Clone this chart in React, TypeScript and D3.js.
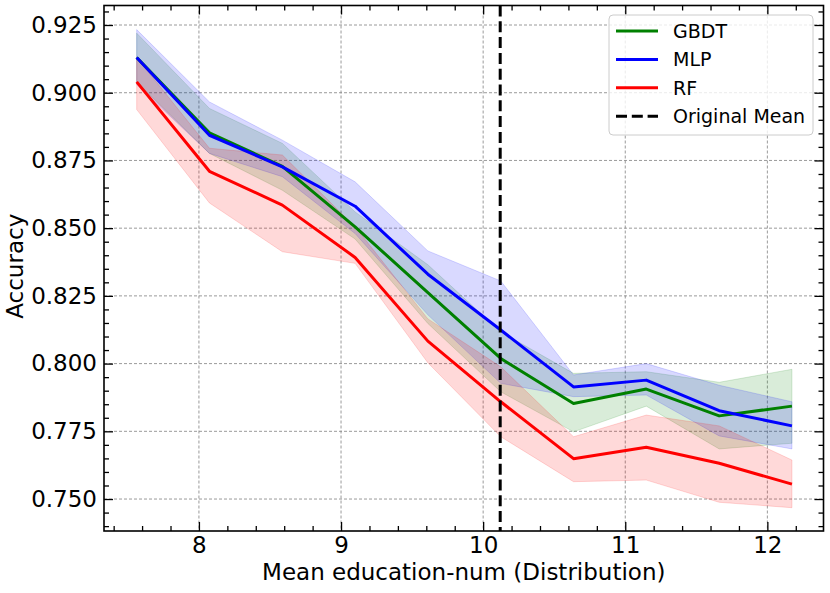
import React, { useEffect, useRef } from "react";
import { area, axisBottom, axisLeft, axisRight, axisTop, line, range, scaleLinear, select, Selection } from "d3";

const WIDTH = 830;
const HEIGHT = 593;
const MARGIN = { left: 104, right: 6.5, top: 5.5, bottom: 62 };
const FONT = "'DejaVu Sans', sans-serif";
const LABEL_SIZE = 23;

const X_DOMAIN: [number, number] = [7.332, 12.395];
const Y_DOMAIN: [number, number] = [0.7382, 0.9322];
const X_TICKS = [8, 9, 10, 11, 12];
const Y_TICKS = [0.75, 0.775, 0.8, 0.825, 0.85, 0.875, 0.9, 0.925];
const ORIGINAL_MEAN = 10.12;

const MEAN_EDU = [7.562, 8.074, 8.587, 9.099, 9.611, 10.124, 10.636, 11.148, 11.661, 12.173];

const GBDT_MEAN = [0.913, 0.8852, 0.8728, 0.8505, 0.8262, 0.8019, 0.7853, 0.7906, 0.7807, 0.7843];
const GBDT_LOW = [0.904, 0.8776, 0.864, 0.846, 0.8148, 0.7896, 0.7748, 0.7843, 0.7685, 0.7706];
const GBDT_HIGH = [0.922, 0.8942, 0.8813, 0.856, 0.8365, 0.8117, 0.7964, 0.797, 0.7931, 0.7979];

const MLP_MEAN = [0.913, 0.8843, 0.8726, 0.8581, 0.833, 0.8124, 0.7914, 0.7939, 0.7826, 0.777];
const MLP_LOW = [0.903, 0.8776, 0.869, 0.848, 0.818, 0.7927, 0.7878, 0.7884, 0.7733, 0.7685];
const MLP_HIGH = [0.9233, 0.8966, 0.8825, 0.8671, 0.8416, 0.8305, 0.7958, 0.8, 0.792, 0.7859];

const RF_MEAN = [0.904, 0.871, 0.8585, 0.8392, 0.8083, 0.7859, 0.7649, 0.7691, 0.7632, 0.7555];
const RF_LOW = [0.8938, 0.8593, 0.8413, 0.837, 0.8003, 0.773, 0.7564, 0.757, 0.7488, 0.7468];
const RF_HIGH = [0.913, 0.8795, 0.877, 0.8505, 0.8165, 0.7988, 0.773, 0.781, 0.777, 0.7644];

type Series = { name: string; color: string; mean: number[]; low: number[]; high: number[] };

const SERIES: Series[] = [
    { name: "GBDT", color: "#008000", mean: GBDT_MEAN, low: GBDT_LOW, high: GBDT_HIGH },
    { name: "MLP", color: "#0000ff", mean: MLP_MEAN, low: MLP_LOW, high: MLP_HIGH },
    { name: "RF", color: "#ff0000", mean: RF_MEAN, low: RF_LOW, high: RF_HIGH },
];

type G = Selection<SVGGElement, unknown, null, undefined>;

const innerW = WIDTH - MARGIN.left - MARGIN.right;
const innerH = HEIGHT - MARGIN.top - MARGIN.bottom;

const App = () => {
    const svgRef = useRef<SVGSVGElement>(null);

    useEffect(() => {
        const svgEl = select(svgRef.current);
        svgEl.selectAll("*").remove();
        const svg = svgEl.append("g").attr("transform", `translate(${MARGIN.left},${MARGIN.top})`);

        const x = scaleLinear().domain(X_DOMAIN).range([0, innerW]);
        const y = scaleLinear().domain(Y_DOMAIN).range([innerH, 0]);

        drawGrid(svg, x, y);

        const idx = range(MEAN_EDU.length);
        const band = (s: Series) =>
            area<number>()
                .x(i => x(MEAN_EDU[i]))
                .y0(i => y(s.low[i]))
                .y1(i => y(s.high[i]));
        const meanLine = (s: Series) =>
            line<number>()
                .x(i => x(MEAN_EDU[i]))
                .y(i => y(s.mean[i]));

        SERIES.forEach(s => {
            svg.append("path")
                .attr("d", band(s)(idx))
                .attr("fill", s.color)
                .attr("fill-opacity", 0.15)
                .attr("stroke", s.color)
                .attr("stroke-opacity", 0.15)
                .attr("stroke-width", 1);
        });
        SERIES.forEach(s => {
            svg.append("path")
                .attr("d", meanLine(s)(idx))
                .attr("fill", "none")
                .attr("stroke", s.color)
                .attr("stroke-width", 3)
                .attr("stroke-linejoin", "round");
        });

        svg.append("line")
            .attr("x1", x(ORIGINAL_MEAN))
            .attr("x2", x(ORIGINAL_MEAN))
            .attr("y1", 0)
            .attr("y2", innerH)
            .attr("stroke", "black")
            .attr("stroke-width", 3)
            .attr("stroke-dasharray", "11,4.8");

        drawAxes(svg, x, y);
        drawLegend(svgEl as unknown as G);
    }, []);

    return (
        <svg
            ref={svgRef}
            width={WIDTH}
            height={HEIGHT}
            style={{ position: "absolute", left: 0, top: 0, background: "white" }}
        />
    );
};

const drawGrid = (svg: G, x: any, y: any) => {
    const grid = svg.append("g");
    X_TICKS.forEach(t => {
        grid.append("line")
            .attr("x1", x(t)).attr("x2", x(t))
            .attr("y1", 0).attr("y2", innerH)
            .attr("stroke", "#808080").attr("stroke-width", 0.8).attr("stroke-dasharray", "3,2");
    });
    Y_TICKS.forEach(t => {
        grid.append("line")
            .attr("y1", y(t)).attr("y2", y(t))
            .attr("x1", 0).attr("x2", innerW)
            .attr("stroke", "#808080").attr("stroke-width", 0.8).attr("stroke-dasharray", "3,2");
    });
};

const drawAxes = (svg: G, x: any, y: any) => {
    const xMinor = range(7.4, 12.4, 0.2).filter(v => !X_TICKS.some(t => Math.abs(t - v) < 1e-6));
    const yMinor = range(0.74, 0.9321, 0.005).filter(v => !Y_TICKS.some(t => Math.abs(t - v) < 1e-6));

    const addAxis = (gen: any, transform: string, labels: boolean) => {
        const g = svg.append("g").attr("transform", transform).call(gen);
        g.select(".domain").remove();
        g.selectAll("line").attr("stroke", "black").attr("stroke-width", 1.3);
        if (labels) {
            g.selectAll("text").attr("font-family", FONT).attr("font-size", LABEL_SIZE).attr("fill", "black");
        } else {
            g.selectAll("text").remove();
        }
    };

    // ticks point inwards, hence the negative sizes
    addAxis(axisBottom(x).tickValues(X_TICKS).tickSize(-9).tickPadding(5.5).tickFormat((d: any) => `${d}`), `translate(0,${innerH})`, true);
    addAxis(axisBottom(x).tickValues(xMinor).tickSize(-5), `translate(0,${innerH})`, false);
    addAxis(axisTop(x).tickValues(X_TICKS).tickSize(-9), "translate(0,0)", false);
    addAxis(axisTop(x).tickValues(xMinor).tickSize(-5), "translate(0,0)", false);
    addAxis(axisLeft(y).tickValues(Y_TICKS).tickSize(-9).tickPadding(7).tickFormat((d: any) => d.toFixed(3)), "translate(0,0)", true);
    addAxis(axisLeft(y).tickValues(yMinor).tickSize(-5), "translate(0,0)", false);
    addAxis(axisRight(y).tickValues(Y_TICKS).tickSize(-9), `translate(${innerW},0)`, false);
    addAxis(axisRight(y).tickValues(yMinor).tickSize(-5), `translate(${innerW},0)`, false);

    svg.append("rect")
        .attr("width", innerW)
        .attr("height", innerH)
        .attr("fill", "none")
        .attr("stroke", "black")
        .attr("stroke-width", 1.6);

    svg.append("text")
        .attr("x", innerW / 2)
        .attr("y", innerH + 48.5)
        .attr("text-anchor", "middle")
        .attr("font-family", FONT)
        .attr("font-size", LABEL_SIZE)
        .text("Mean education-num (Distribution)");

    svg.append("text")
        .attr("transform", `translate(${-81},${innerH / 2 - 2}) rotate(-90)`)
        .attr("text-anchor", "middle")
        .attr("font-family", FONT)
        .attr("font-size", LABEL_SIZE)
        .text("Accuracy");
};

const drawLegend = (root: G) => {
    const lg = root.append("g").attr("transform", "translate(609,15)");
    lg.append("rect")
        .attr("width", 204)
        .attr("height", 120)
        .attr("rx", 4)
        .attr("fill", "white")
        .attr("fill-opacity", 0.8)
        .attr("stroke", "#cccccc")
        .attr("stroke-width", 1);

    const entries = [
        ...SERIES.map(s => ({ label: s.name, color: s.color, dash: "none" })),
        { label: "Original Mean", color: "black", dash: "11,4.8" },
    ];
    entries.forEach((e, i) => {
        const cy = 16 + i * 28.4;
        lg.append("line")
            .attr("x1", 7).attr("x2", 49)
            .attr("y1", cy).attr("y2", cy)
            .attr("stroke", e.color)
            .attr("stroke-width", 3)
            .attr("stroke-dasharray", e.dash);
        lg.append("text")
            .attr("x", 64)
            .attr("y", cy)
            .attr("dy", "0.36em")
            .attr("font-family", FONT)
            .attr("font-size", 19)
            .text(e.label);
    });
};

export default App;
